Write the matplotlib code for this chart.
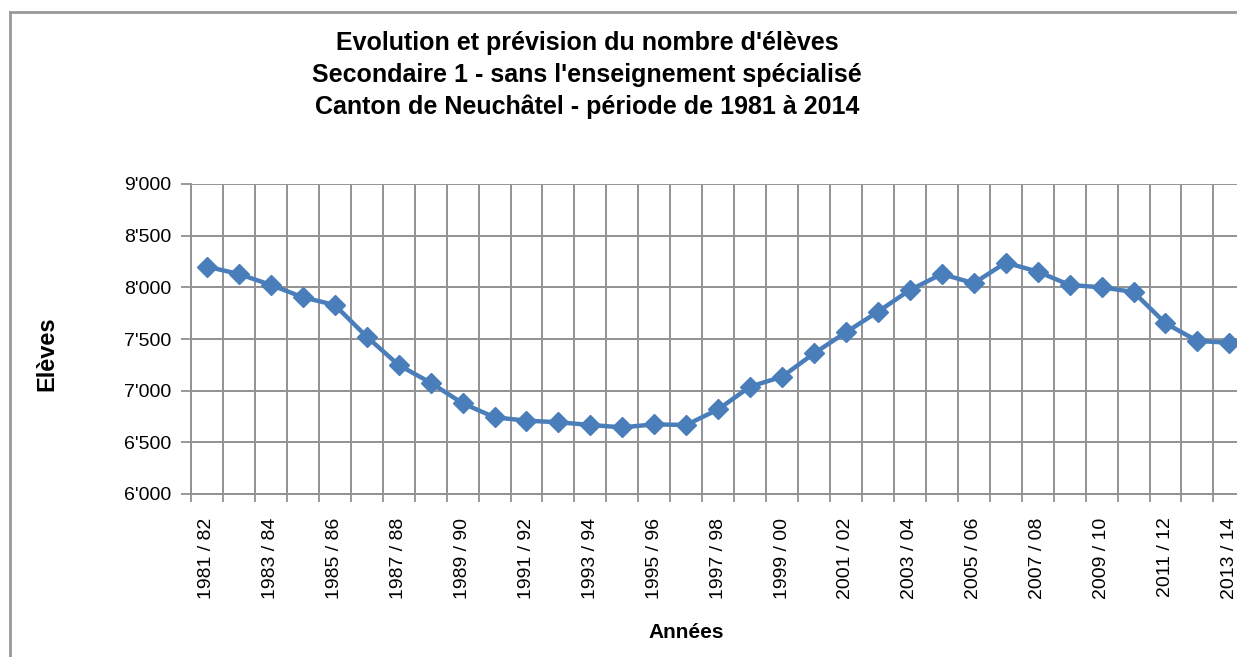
import matplotlib
matplotlib.use("Agg")
import matplotlib.pyplot as plt
from matplotlib.lines import Line2D
from matplotlib.ticker import FuncFormatter, MultipleLocator

# school years 1981/82 .. 2013/14
annees = ["%d / %02d" % (y, (y + 1) % 100) for y in range(1981, 2014)]

eleves = [8200, 8129, 8023, 7904, 7829, 7522, 7248, 7077, 6878, 6742,
          6710, 6694, 6668, 6645, 6674, 6668, 6819, 7039, 7135, 7361,
          7565, 7764, 7974, 8129, 8039, 8239, 8152, 8023, 8000, 7955,
          7652, 7481, 7464]

titre = ("Evolution et prévision du nombre d'élèves\n"
         "Secondaire 1 - sans l'enseignement spécialisé\n"
         "Canton de Neuchâtel - période de 1981 à 2014")

plt.rcParams['font.family'] = ['Liberation Sans', 'DejaVu Sans']

W, H = 1237, 657
fig = plt.figure(figsize=(W / 100, H / 100), dpi=100)
fig.patch.set_facecolor('white')

# axes placed in pixels, right side runs off the picture like the original
left, right, top, bottom = 191, 191 + 33 * 31.95, 184, 494
ax = fig.add_axes([left / W, 1 - bottom / H, (right - left) / W, (bottom - top) / H])

x = list(range(len(annees)))
ax.plot(x, eleves, color='#4a7ebb', linewidth=3.2, marker='D', markersize=10.5,
        markeredgecolor='#4a7ebb', markerfacecolor='#4a7ebb', zorder=3, clip_on=False)

ax.set_xlim(-0.5, len(annees) - 0.5)
ax.set_ylim(6000, 9000)

ax.yaxis.set_major_locator(MultipleLocator(500))
ax.yaxis.set_major_formatter(FuncFormatter(lambda v, p: "%d'%03d" % (v // 1000, v % 1000)))

# vertical grid on category boundaries, labels every other year on the marks
ax.set_xticks([i - 0.5 for i in range(len(annees) + 1)])
ax.set_xticklabels([])
ax.set_xticks(x[::2], minor=True)
ax.set_xticklabels(annees[::2], minor=True, rotation=90, fontsize=14)
ax.tick_params(axis='x', which='minor', length=0, pad=17)
ax.tick_params(axis='x', which='major', length=6, color='#888888', width=1.2)
ax.tick_params(axis='y', length=7, color='#888888', width=1.2, labelsize=14, pad=7)

ax.grid(True, which='major', color='#939393', linewidth=1.4)
ax.set_axisbelow(True)
for s in ['top', 'right']:
    ax.spines[s].set_visible(False)
for s in ['left', 'bottom']:
    ax.spines[s].set_color('#939393')
    ax.spines[s].set_linewidth(1.4)

fig.text(47 / W, 1 - 354 / H, 'Elèves', ha='center', va='center', rotation=90,
         fontsize=17, fontweight='bold')
fig.text(686 / W, 1 - 632 / H, 'Années', ha='center', va='center',
         fontsize=15, fontweight='bold')

fig.text(587 / W, 1 - 75 / H, titre, ha='center', va='center', fontsize=18,
         fontweight='bold', linespacing=1.42)

# outer chart frame
fig.add_artist(Line2D([10 / W, 1], [1 - 12 / H, 1 - 12 / H], color='#999999', linewidth=2))
fig.add_artist(Line2D([10 / W, 10 / W], [0, 1 - 12 / H], color='#999999', linewidth=2))

fig.savefig('out.png', dpi=100, facecolor='white')
